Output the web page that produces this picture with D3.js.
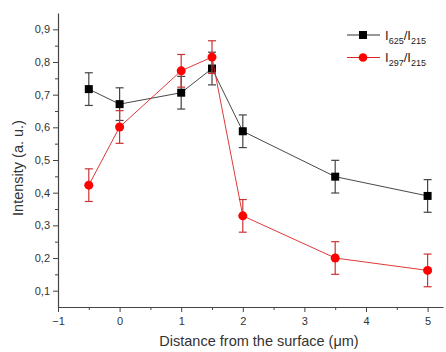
<!DOCTYPE html>
<html>
<head>
<meta charset="utf-8">
<script src="https://cdn.jsdelivr.net/npm/d3@7/dist/d3.min.js"></script>
<style>
  html, body { margin: 0; padding: 0; background: #fff; }
  svg { display: block; font-family: "Liberation Sans", Arial, sans-serif; }
</style>
</head>
<body>
<svg id="chart" width="446" height="352"></svg>
<script>
// Depth positions (µm)
const depth = [-0.5, 0, 1, 1.5, 2, 3.5, 5];
// Intensity ratio I625/I215 and its error
const ratio625 = [0.717, 0.671, 0.706, 0.780, 0.588, 0.449, 0.390];
const err625   = [0.05, 0.05, 0.05, 0.05, 0.05, 0.05, 0.05];
// Intensity ratio I297/I215 and its error
const ratio297 = [0.423, 0.601, 0.773, 0.815, 0.329, 0.200, 0.162];
const err297   = [0.05, 0.05, 0.05, 0.05, 0.05, 0.05, 0.05];
// Axis ticks
const xTicks = [-1, 0, 1, 2, 3, 4, 5];
const yTicks = [0.1, 0.2, 0.3, 0.4, 0.5, 0.6, 0.7, 0.8, 0.9];

const svg = d3.select("#chart");
const x = d3.scaleLinear().domain([-1, 5.25]).range([58, 443]);
const y = d3.scaleLinear().domain([0.05, 0.95]).range([307, 13]);

const fmt = d => d3.format(".1f")(d).replace(".", ",");

// Y axis with major and minor ticks
const yAxis = svg.append("g").attr("transform", "translate(58,0)")
  .call(d3.axisLeft(y).tickValues(yTicks).tickFormat(fmt).tickSize(5).tickSizeOuter(0));
svg.append("g").attr("transform", "translate(58,0)")
  .call(d3.axisLeft(y).tickValues(d3.range(0.15, 0.95, 0.1)).tickFormat("").tickSize(3).tickSizeOuter(0))
  .select(".domain").remove();

// X axis with major and minor ticks
const xAxis = svg.append("g").attr("transform", "translate(0,307)")
  .call(d3.axisBottom(x).tickValues(xTicks).tickFormat(d3.format("d")).tickSize(5).tickSizeOuter(0));
svg.append("g").attr("transform", "translate(0,307)")
  .call(d3.axisBottom(x).tickValues([-0.5, 0.5, 1.5, 2.5, 3.5, 4.5]).tickFormat("").tickSize(3).tickSizeOuter(0))
  .select(".domain").remove();

svg.selectAll(".domain").attr("stroke", "#444").attr("stroke-width", 1.2);
svg.selectAll(".tick line").attr("stroke", "#444");
yAxis.selectAll("text").attr("font-size", 11).attr("fill", "#333").attr("x", -8);
xAxis.selectAll("text").attr("font-size", 11).attr("fill", "#333").attr("y", 10);

// Axis titles
svg.append("text").attr("x", 259).attr("y", 346)
  .attr("text-anchor", "middle").attr("font-size", 14.5).attr("fill", "#333")
  .text("Distance from the surface (\u03bcm)");
svg.append("text").attr("transform", "translate(23,168) rotate(-90)")
  .attr("text-anchor", "middle").attr("font-size", 14.5).attr("fill", "#333")
  .text("Intensity (a. u.)");

function drawSeries(vals, errs, color, lineColor, barColor, shape) {
  const data = depth.map((d, i) => ({ x: d, y: vals[i], e: errs[i] }));
  const g = svg.append("g");
  g.append("path").datum(data)
    .attr("fill", "none").attr("stroke", lineColor).attr("stroke-width", 0.9)
    .attr("d", d3.line().x(d => x(d.x)).y(d => y(d.y)));
  const eb = g.selectAll(".eb").data(data).enter().append("g")
    .attr("stroke", barColor).attr("stroke-width", 1.2);
  eb.append("line").attr("x1", d => x(d.x)).attr("x2", d => x(d.x))
    .attr("y1", d => y(d.y - d.e)).attr("y2", d => y(d.y + d.e));
  eb.append("line").attr("x1", d => x(d.x) - 4).attr("x2", d => x(d.x) + 4)
    .attr("y1", d => y(d.y + d.e)).attr("y2", d => y(d.y + d.e));
  eb.append("line").attr("x1", d => x(d.x) - 4).attr("x2", d => x(d.x) + 4)
    .attr("y1", d => y(d.y - d.e)).attr("y2", d => y(d.y - d.e));
  if (shape === "square") {
    g.selectAll(".m").data(data).enter().append("rect")
      .attr("x", d => x(d.x) - 4).attr("y", d => y(d.y) - 4)
      .attr("width", 8).attr("height", 8).attr("fill", color);
  } else {
    g.selectAll(".m").data(data).enter().append("circle")
      .attr("cx", d => x(d.x)).attr("cy", d => y(d.y)).attr("r", 4.5).attr("fill", color);
  }
}

drawSeries(ratio625, err625, "#000", "#333", "#444", "square");
drawSeries(ratio297, err297, "#f00", "#d22", "#c33", "circle");

// Legend
const legend = [
  { label: "625", color: "#000", line: "#333", shape: "square" },
  { label: "297", color: "#f00", line: "#d22", shape: "circle" }
];
legend.forEach((L, i) => {
  const ly = 35 + i * 22.5;
  const lg = svg.append("g");
  lg.append("line").attr("x1", 347).attr("x2", 380).attr("y1", ly).attr("y2", ly)
    .attr("stroke", L.line).attr("stroke-width", 1);
  if (L.shape === "square") {
    lg.append("rect").attr("x", 363 - 4).attr("y", ly - 4).attr("width", 8).attr("height", 8).attr("fill", L.color);
  } else {
    lg.append("circle").attr("cx", 363).attr("cy", ly).attr("r", 4.3).attr("fill", L.color);
  }
  const t = lg.append("text").attr("x", 385).attr("y", ly + 4.5).attr("font-size", 13).attr("fill", "#222");
  t.append("tspan").text("I");
  t.append("tspan").attr("font-size", 9).attr("dy", 4).text(L.label);
  t.append("tspan").attr("dy", -4).text("/I");
  t.append("tspan").attr("font-size", 9).attr("dy", 4).text("215");
});
</script>
</body>
</html>
